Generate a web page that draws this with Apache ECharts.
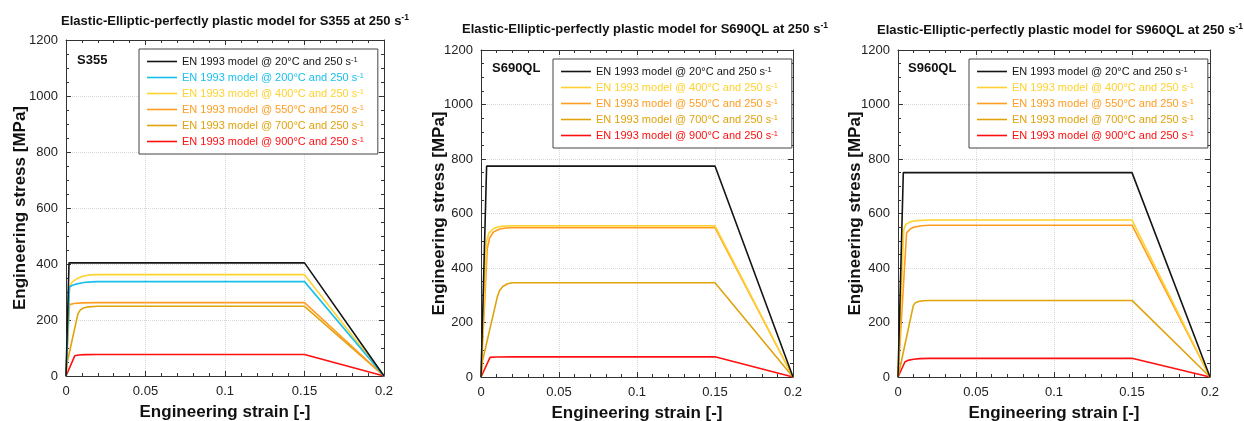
<!DOCTYPE html>
<html lang="en">
<head>
    <meta charset="UTF-8">
    <title>Elastic-Elliptic-perfectly plastic model</title>
    <script src="https://cdn.jsdelivr.net/npm/echarts@6/dist/echarts.min.js"></script>
    <style>
        html, body { margin: 0; padding: 0; background: #fff; }
        #container { width: 1244px; height: 421px; }
    </style>
</head>
<body>
<div id="container"></div>
<script type="text/javascript">
    // curve points [strain, stress MPa]
    var temps = ['20°C', '200°C', '400°C', '550°C', '700°C', '900°C'];
    var colors = ['#151515', '#18bfee', '#ffd22e', '#ff9d22', '#e0a30c', '#ff1010'];
    var xTicks = [0, 0.05, 0.1, 0.15, 0.2];
    var yTicks = [0, 200, 400, 600, 800, 1000, 1200];

    // S355
    var s355_20 = [[0, 0], [0.0019, 404], [0.15, 404], [0.2, 0]];
    var s355_200 = [[0, 0], [0.0022, 318], [0.004, 324], [0.007, 329], [0.011, 334], [0.016, 336], [0.02, 337], [0.15, 337], [0.2, 0]];
    var s355_400 = [[0, 0], [0.0022, 320], [0.004, 336], [0.007, 348], [0.011, 357], [0.015, 361], [0.02, 362], [0.15, 362], [0.2, 0]];
    var s355_550 = [[0, 0], [0.0022, 255], [0.005, 259], [0.01, 261], [0.02, 262], [0.15, 262], [0.2, 0]];
    var s355_700 = [[0, 0], [0.0008, 50], [0.0075, 222], [0.009, 236], [0.011, 243], [0.014, 247], [0.02, 249], [0.15, 249], [0.2, 0]];
    var s355_900 = [[0, 0], [0.0055, 72], [0.008, 75], [0.012, 76.5], [0.02, 77], [0.15, 77], [0.2, 0]];

    // S690QL
    var s690_20 = [[0, 0], [0.0036, 774], [0.15, 774], [0.2, 0]];
    var s690_400 = [[0, 0], [0.0035, 495], [0.005, 528], [0.008, 545], [0.012, 552], [0.016, 554], [0.02, 555], [0.15, 555], [0.2, 0]];
    var s690_550 = [[0, 0], [0.004, 470], [0.0055, 510], [0.008, 532], [0.012, 543], [0.016, 547], [0.02, 548], [0.15, 548], [0.2, 0]];
    var s690_700 = [[0, 0], [0.001, 60], [0.0105, 295], [0.012, 318], [0.014, 332], [0.017, 342], [0.02, 346], [0.15, 346], [0.2, 0]];
    var s690_900 = [[0, 0], [0.0058, 72], [0.01, 73.5], [0.02, 74], [0.15, 74], [0.2, 0]];

    // S960QL
    var s960_20 = [[0, 0], [0.0034, 750], [0.15, 750], [0.2, 0]];
    var s960_400 = [[0, 0], [0.0037, 540], [0.005, 560], [0.008, 570], [0.012, 574], [0.02, 576], [0.15, 576], [0.2, 0]];
    var s960_550 = [[0, 0], [0.0055, 529], [0.008, 544], [0.011, 551], [0.015, 555], [0.02, 557], [0.15, 557], [0.2, 0]];
    var s960_700 = [[0, 0], [0.0098, 262], [0.011, 272], [0.013, 277], [0.016, 280], [0.02, 281], [0.15, 281], [0.2, 0]];
    var s960_900 = [[0, 0], [0.0045, 56], [0.007, 62], [0.01, 65], [0.014, 67.5], [0.02, 68.5], [0.15, 68.5], [0.2, 0]];

    var panels = [
        {steel: 'S355', grid: {left: 66, right: 860, top: 40, bottom: 45}, yGap: 37, titleX: 235, titleY: 21, labelX: 77, labelY: 60,
            legend: {left: 139, top: 49}, gap: 5, temps: [0, 1, 2, 3, 4, 5],
            data: [s355_20, s355_200, s355_400, s355_550, s355_700, s355_900]},
        {steel: 'S690QL', grid: {left: 481, right: 451, top: 50, bottom: 44}, yGap: 33, titleX: 645, titleY: 29, labelX: 492, labelY: 68,
            legend: {left: 553, top: 59}, gap: 5, temps: [0, 2, 3, 4, 5],
            data: [s690_20, s690_400, s690_550, s690_700, s690_900]},
        {steel: 'S960QL', grid: {left: 898, right: 34, top: 50, bottom: 44}, yGap: 34, titleX: 1060, titleY: 30, labelX: 908, labelY: 68,
            legend: {left: 969, top: 59}, gap: 5, temps: [0, 2, 3, 4, 5],
            data: [s960_20, s960_400, s960_550, s960_700, s960_900]}
    ];

    var axisColor = '#333';
    var rich = {};
    temps.forEach(function (t, i) {
        rich['c' + i] = {color: colors[i], fontSize: 11, fontFamily: 'Liberation Sans'};
        rich['s' + i] = {color: colors[i], fontSize: 7.5, lineHeight: 8, verticalAlign: 'top', fontFamily: 'Liberation Sans'};
    });

    function xAxisOf(g, top) {
        return {
            gridIndex: g, type: 'value', min: 0, max: 0.2, interval: 0.05,
            position: top ? 'top' : 'bottom',
            name: top ? '' : 'Engineering strain [-]', nameLocation: 'middle', nameGap: 28, nameMoveOverlap: false,
            nameTextStyle: {fontSize: 17, fontWeight: 'bold', color: '#111', fontFamily: 'Liberation Sans'},
            axisLine: {onZero: false, lineStyle: {color: axisColor}},
            axisTick: {inside: true, length: 5, lineStyle: {color: axisColor}},
            minorTick: {show: true, splitNumber: 5, length: 3, lineStyle: {color: axisColor}},
            axisLabel: {show: !top, fontSize: 13, color: '#222', margin: 9, fontFamily: 'Liberation Sans',
                formatter: function (v) { return String(Math.round(v * 100) / 100); }},
            splitLine: {show: !top, lineStyle: {color: '#d8d8d8', type: 'dotted'}}
        };
    }

    function yAxisOf(g, right, gap) {
        return {
            gridIndex: g, type: 'value', min: 0, max: 1200, interval: 200,
            position: right ? 'right' : 'left',
            name: right ? '' : 'Engineering stress [MPa]', nameLocation: 'middle', nameGap: gap, nameMoveOverlap: false,
            nameTextStyle: {fontSize: 17, fontWeight: 'bold', color: '#111', fontFamily: 'Liberation Sans'},
            axisLine: {show: true, onZero: false, lineStyle: {color: axisColor}},
            axisTick: {show: true, inside: true, length: 5, lineStyle: {color: axisColor}},
            minorTick: {show: true, splitNumber: 4, length: 3, lineStyle: {color: axisColor}},
            axisLabel: {show: !right, fontSize: 13, color: '#222', margin: 8, fontFamily: 'Liberation Sans',
                formatter: function (v) { return String(v); }},
            splitLine: {show: !right, lineStyle: {color: '#d8d8d8', type: 'dotted'}}
        };
    }

    var grids = [], xAxes = [], yAxes = [], series = [], legends = [], graphics = [];
    panels.forEach(function (p, g) {
        var gr = Object.assign({outerBoundsMode: 'none', containLabel: false}, p.grid);
        grids.push(gr);
        xAxes.push(xAxisOf(g, false), xAxisOf(g, true));
        yAxes.push(yAxisOf(g, false, p.yGap), yAxisOf(g, true, 0));
        var names = [];
        p.temps.forEach(function (ti, k) {
            names.push(temps[ti]);
            series.push({
                name: temps[ti], type: 'line', xAxisIndex: 2 * g, yAxisIndex: 2 * g,
                data: p.data[k], symbol: 'none', color: colors[ti],
                lineStyle: {width: 1.6, color: colors[ti]}, z: 10 - ti
            });
        });
        legends.push({
            orient: 'vertical', left: p.legend.left, top: p.legend.top, data: names,
            backgroundColor: '#fff', borderColor: '#444', borderWidth: 1,
            padding: [7, 14, 7, 8], icon: 'rect', itemWidth: 30, itemHeight: 1.6, itemGap: p.gap, align: 'left',
            selectedMode: false,
            formatter: function (name) {
                var i = temps.indexOf(name);
                return '{c' + i + '|EN 1993 model @ ' + name + ' and 250 s}{s' + i + '|-1}';
            },
            textStyle: {rich: rich}
        });
        graphics.push({
            type: 'text', x: p.titleX, y: p.titleY,
            style: {
                text: '{t|Elastic-Elliptic-perfectly plastic model for ' + p.steel + ' at 250 s}{u|-1}',
                align: 'center', verticalAlign: 'middle',
                rich: {
                    t: {fontSize: 13, fontWeight: 'bold', fill: '#111', lineHeight: 16, fontFamily: 'Liberation Sans'},
                    u: {fontSize: 8.5, fontWeight: 'bold', fill: '#111', lineHeight: 9, verticalAlign: 'top', fontFamily: 'Liberation Sans'}
                }
            }
        });
        graphics.push({
            type: 'text', x: p.labelX, y: p.labelY,
            style: {text: p.steel, font: 'bold 13px "Liberation Sans"', fill: '#111', verticalAlign: 'middle'}
        });
    });

    var myChart = echarts.init(document.getElementById('container'));
    var option = {
        animation: false,
        backgroundColor: '#fff',
        grid: grids,
        xAxis: xAxes,
        yAxis: yAxes,
        legend: legends,
        series: series,
        graphic: graphics
    };
    myChart.setOption(option);
</script>
</body>
</html>
